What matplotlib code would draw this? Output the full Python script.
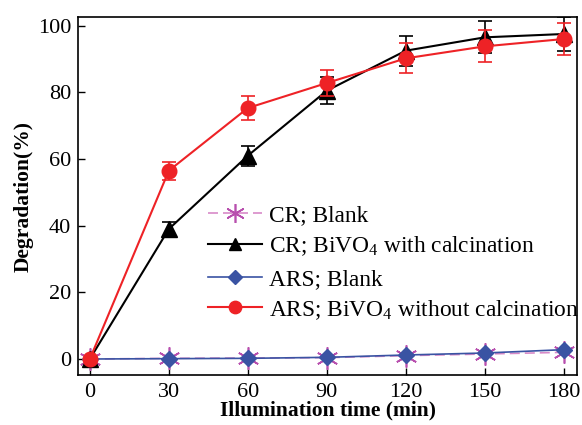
import matplotlib
matplotlib.use("Agg")
import matplotlib.pyplot as plt

plt.rcParams['font.family'] = ['Liberation Serif', 'DejaVu Serif']
plt.rcParams['mathtext.fontset'] = 'custom'
plt.rcParams['mathtext.rm'] = 'Liberation Serif'

time = [0, 30, 60, 90, 120, 150, 180]
cr_blank = [0, 0.2, 0.3, 0.4, 1.0, 1.5, 2.0]
cr_bivo4 = [0, 39.0, 61.0, 80.5, 92.5, 96.5, 97.5]
cr_bivo4_err = [0, 2.0, 3.0, 4.0, 4.5, 4.8, 5.0]
ars_blank = [0, 0.1, 0.2, 0.5, 1.2, 1.8, 2.8]
ars_bivo4 = [0, 56.5, 75.3, 82.8, 90.2, 93.8, 96.0]
ars_bivo4_err = [0, 2.7, 3.6, 4.0, 4.5, 4.8, 4.8]

xticks = [0, 30, 60, 90, 120, 150, 180]
yticks = [0, 20, 40, 60, 80, 100]

fig = plt.figure(figsize=(5.82, 4.25), dpi=100)
ax = fig.add_axes([78/582, 50/425, 499/582, 358/425])

red = '#ee2226'
blue = '#3a53a3'
mag = '#b84fae'

l1, = ax.plot(time, cr_blank, color='#d88ac8', ls=(0, (6, 3)), lw=1.2,
              marker=(6, 2, 0), ms=16, mec=mag, mew=1.2, zorder=3)
ax.errorbar(time, cr_bivo4, yerr=cr_bivo4_err, fmt='none', ecolor='black',
            elinewidth=1.2, capsize=5, capthick=1.2, zorder=4)
l2, = ax.plot(time, cr_bivo4, color='black', lw=1.5, marker='^', ms=11,
              mfc='black', mec='black', zorder=5)
l3, = ax.plot(time, ars_blank, color=blue, lw=1.2, marker='D', ms=8,
              mfc=blue, mec=blue, zorder=4)
ax.errorbar(time, ars_bivo4, yerr=ars_bivo4_err, fmt='none', ecolor=red,
            elinewidth=1.2, capsize=5, capthick=1.2, zorder=5)
l4, = ax.plot(time, ars_bivo4, color=red, lw=1.5, marker='o', ms=10.5,
              mfc=red, mec=red, zorder=6)

ax.set_xlim(-4.5, 185)
ax.set_ylim(-4.8, 102.6)
ax.set_xticks(xticks)
ax.set_yticks(yticks)
ax.tick_params(direction='in', labelsize=16, length=5, width=1, top=False, right=False)
ax.tick_params(axis='x', pad=6)
ax.tick_params(axis='y', pad=5)
for s in ax.spines.values():
    s.set_linewidth(1.2)

ax.set_xlabel('Illumination time (min)', fontsize=15.5, fontweight='bold', labelpad=-1)
ax.set_ylabel('Degradation(%)', fontsize=15.5, fontweight='bold', labelpad=3)

legkw = dict(loc='upper left', frameon=False, fontsize=16.8, handlelength=2.3,
             handletextpad=0.3, borderaxespad=0, borderpad=0, labelspacing=0.33,
             markerscale=0.85)
leg1 = ax.legend([l1, l2], ['CR; Blank', 'CR; BiVO$_4$ with calcination'],
                 bbox_to_anchor=(0.2605, 0.475), **legkw)
ax.add_artist(leg1)
ax.legend([l3, l4], ['ARS; Blank', 'ARS; BiVO$_4$ without calcination'],
          bbox_to_anchor=(0.2605, 0.297), **legkw)

fig.savefig('out.png', dpi=100)
